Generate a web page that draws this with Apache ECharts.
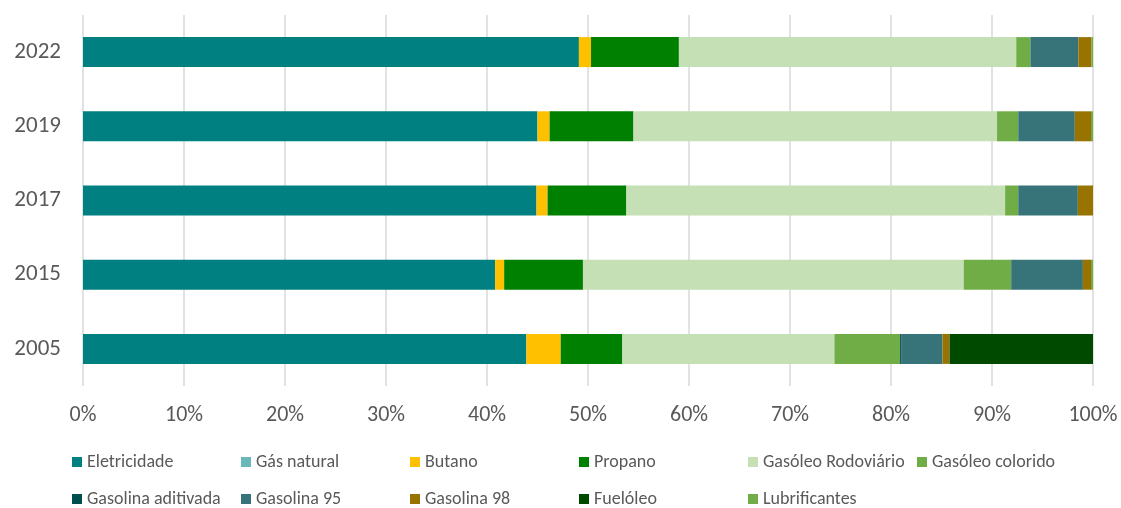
<!DOCTYPE html>
<html>
<head>
<meta charset="utf-8">
<script src="https://cdn.jsdelivr.net/npm/echarts@6/dist/echarts.min.js"></script>
<style>
  html, body { margin: 0; padding: 0; background: #fff; }
  #myChart { width: 1121px; height: 508px; }
</style>
</head>
<body>
<div id="myChart"></div>
<script>
  // categorias (de baixo para cima)
  var anos = ['2005', '2015', '2017', '2019', '2022'];
  var xTicks = [0, 10, 20, 30, 40, 50, 60, 70, 80, 90, 100];

  // quotas (%) por ano, mesma ordem que anos
  var eletricidade      = [43.9, 40.8, 44.9, 45.0, 49.1];
  var gasNatural        = [0, 0, 0, 0, 0];
  var butano            = [3.4, 0.9, 1.1, 1.2, 1.2];
  var propano           = [6.1, 7.8, 7.8, 8.3, 8.7];
  var gasoleoRodoviario = [21.0, 37.7, 37.5, 36.0, 33.4];
  var gasoleoColorido   = [6.5, 4.7, 1.3, 2.1, 1.4];
  var gasolinaAditivada = [0.1, 0, 0, 0, 0];
  var gasolina95        = [4.1, 7.1, 5.9, 5.6, 4.75];
  var gasolina98        = [0.7, 0.8, 1.5, 1.6, 1.3];
  var fueloleo          = [14.2, 0, 0, 0, 0];
  var lubrificantes     = [0, 0.2, 0, 0.2, 0.2];

  var nomes = ['Eletricidade', 'Gás natural', 'Butano', 'Propano', 'Gasóleo Rodoviário', 'Gasóleo colorido',
               'Gasolina aditivada', 'Gasolina 95', 'Gasolina 98', 'Fuelóleo', 'Lubrificantes'];
  var valores = [eletricidade, gasNatural, butano, propano, gasoleoRodoviario, gasoleoColorido,
                 gasolinaAditivada, gasolina95, gasolina98, fueloleo, lubrificantes];
  var cores = ['#008080', '#6BB8BB', '#FFC000', '#008000', '#C5E0B4', '#70AD47',
               '#004F4F', '#367479', '#997300', '#004A00', '#70AD47'];

  var fonte = "'Liberation Sans Narrow', 'Carlito', sans-serif";

  // legenda em duas linhas com colunas fixas
  var legendas = nomes.map(function (n, i) {
    return {
      data: [n],
      left: 67 + (i % 6) * 169,
      top: i < 6 ? 448 : 485,
      itemWidth: 10,
      itemHeight: 10,
      itemGap: 4,
      icon: 'rect',
      textStyle: { fontFamily: fonte, fontSize: 18, color: '#595959' }
    };
  });

  var series = nomes.map(function (n, i) {
    return {
      name: n,
      type: 'bar',
      stack: 'total',
      barWidth: 30,
      data: valores[i],
      itemStyle: { color: cores[i] }
    };
  });

  var myChart = echarts.init(document.getElementById('myChart'));
  myChart.setOption({
    animation: false,
    legend: legendas,
    grid: { left: 83, right: 28, top: 15, bottom: 122 },
    xAxis: {
      type: 'value',
      min: xTicks[0],
      max: xTicks[xTicks.length - 1],
      interval: 10,
      axisLine: { show: false },
      axisTick: { show: false },
      axisLabel: { formatter: '{value}%', fontFamily: fonte, fontSize: 22, color: '#595959', margin: 18 },
      splitLine: { lineStyle: { color: '#d9d9d9', width: 1.5 } }
    },
    yAxis: {
      type: 'category',
      data: anos,
      axisLine: { show: false },
      axisTick: { show: false },
      axisLabel: { fontFamily: fonte, fontSize: 23, color: '#595959', margin: 22 }
    },
    series: series
  });
</script>
</body>
</html>
